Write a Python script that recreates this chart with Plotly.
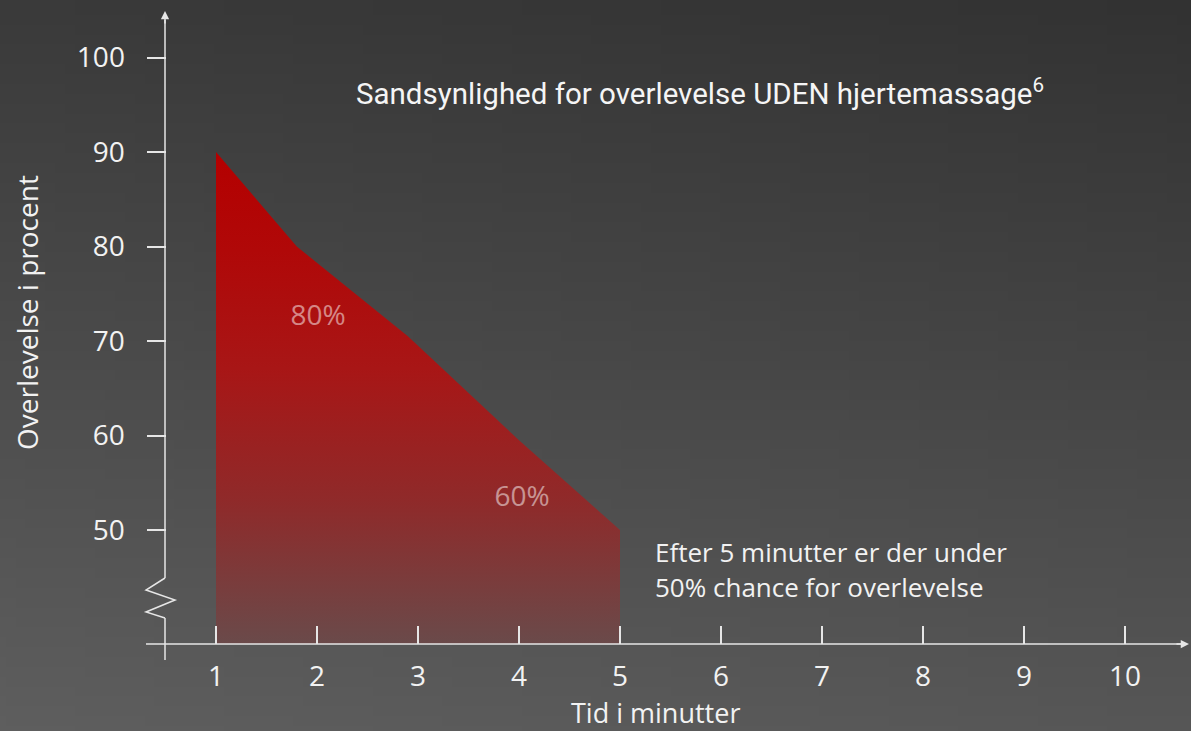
import base64
import struct
import zlib

import plotly.graph_objects as go

# ---------------- data ----------------
TIME_MIN = [1, 1.8, 2.9, 4, 5]
SURVIVAL_PCT = [90, 80, 70.5, 59.5, 50]
AXIS_FLOOR = 37.94          # value where the (broken) y axis meets the x axis

X_TICKS = [1, 2, 3, 4, 5, 6, 7, 8, 9, 10]
X_TICK_TEXT = ["1", "2", "3", "4", "5", "6", "7", "8", "9", "10"]
Y_TICKS = [50, 60, 70, 80, 90, 100]
Y_TICK_TEXT = ["50", "60", "70", "80", "90", "100"]

LABEL_X = [2.01, 4.03]
LABEL_Y = [72.4, 53.3]
LABEL_TEXT = ["80%", "60%"]

TITLE = "Sandsynlighed for overlevelse UDEN hjertemassage<sup>6</sup>"
NOTE_LINES = ["Efter 5 minutter er der under", "50% chance for overlevelse"]
X_TITLE = "Tid i minutter"
Y_TITLE = "Overlevelse i procent"

# ---------------- layout helpers ----------------
W, H = 1191, 731
X_RANGE = [1 - 216 / 101, 1 - 216 / 101 + W / 101]
Y_TOP = 100 + 57.5 / 9.45
Y_RANGE = [Y_TOP - H / 9.45, Y_TOP]


def px(x):
    return x / W


def py(y):
    return 1 - y / H


def make_bg_png(w=120, h=74):
    rows = []
    for j in range(h):
        ty = j / (h - 1)
        row = bytearray([0])
        for i in range(w):
            tx = i / (w - 1)
            v = int(round(50 + 36 * ty + 8 * (1 - tx)))
            row += bytes([v, v, v])
        rows.append(bytes(row))
    raw = b"".join(rows)

    def chunk(tag, data):
        return (struct.pack(">I", len(data)) + tag + data
                + struct.pack(">I", zlib.crc32(tag + data) & 0xFFFFFFFF))

    png = b"\x89PNG\r\n\x1a\n"
    png += chunk(b"IHDR", struct.pack(">IIBBBBB", w, h, 8, 2, 0, 0, 0))
    png += chunk(b"IDAT", zlib.compress(raw, 9))
    png += chunk(b"IEND", b"")
    return "data:image/png;base64," + base64.b64encode(png).decode()


# ---------------- figure ----------------
fig = go.Figure()

poly_x = TIME_MIN + [TIME_MIN[-1], TIME_MIN[0], TIME_MIN[0]]
poly_y = SURVIVAL_PCT + [AXIS_FLOOR, AXIS_FLOOR, SURVIVAL_PCT[0]]

fig.add_trace(go.Scatter(
    x=poly_x, y=poly_y, mode="lines", fill="toself",
    line=dict(width=0, color="rgba(0,0,0,0)"),
    fillgradient=dict(
        type="vertical",
        colorscale=[
            [0.0, "rgb(106,74,74)"],
            [0.29, "rgb(143,42,42)"],
            [0.56, "rgb(168,22,22)"],
            [0.80, "rgb(176,8,8)"],
            [1.0, "rgb(180,0,0)"],
        ],
    ),
    hoverinfo="skip", showlegend=False,
))

fig.add_trace(go.Scatter(
    x=LABEL_X, y=LABEL_Y, mode="text", text=LABEL_TEXT,
    textfont=dict(family="Open Sans, sans-serif", size=28,
                  color="rgba(255,255,255,0.5)"),
    hoverinfo="skip", showlegend=False,
))

AX_COL = "#e6e6e6"
TICK_FONT = dict(family="Open Sans, sans-serif", size=28, color="#f2f2f2")
TEXT_FONT = "Open Sans, sans-serif"

fig.update_xaxes(
    range=X_RANGE, showgrid=False, zeroline=False, showline=False,
    tickmode="array", tickvals=X_TICKS, ticktext=X_TICK_TEXT,
    ticks="inside", ticklen=18, tickwidth=1.5, tickcolor=AX_COL,
    anchor="free", position=py(644), tickfont=TICK_FONT,
    ticklabelstandoff=13, fixedrange=True,
)
fig.update_yaxes(
    range=Y_RANGE, showgrid=False, zeroline=False, showline=False,
    tickmode="array", tickvals=Y_TICKS, ticktext=Y_TICK_TEXT,
    ticks="outside", ticklen=19, tickwidth=1.5, tickcolor=AX_COL,
    anchor="free", position=px(165.5), tickfont=TICK_FONT,
    ticklabelstandoff=16, fixedrange=True,
)

line = dict(color=AX_COL, width=1.5)
shapes = [
    # x axis
    dict(type="line", xref="paper", yref="paper",
         x0=px(146), y0=py(644), x1=px(1182), y1=py(644), line=line),
    # y axis lower part
    dict(type="line", xref="paper", yref="paper",
         x0=px(165), y0=py(660), x1=px(165), y1=py(618), line=line),
    # y axis upper part
    dict(type="line", xref="paper", yref="paper",
         x0=px(165), y0=py(578), x1=px(165), y1=py(20), line=line),
    # break zigzag
    dict(type="path", xref="paper", yref="paper", line=line,
         path=(f"M {px(165)} {py(578)} L {px(146)} {py(590)} "
               f"L {px(175)} {py(600)} L {px(146)} {py(612)} "
               f"L {px(165)} {py(618)}")),
]

annotations = [
    # arrow heads
    dict(x=px(1189), y=py(644), xref="paper", yref="paper", text="",
         showarrow=True, ax=-14, ay=0, arrowhead=2, arrowsize=1.1,
         arrowwidth=1.5, arrowcolor=AX_COL),
    dict(x=px(165), y=py(11), xref="paper", yref="paper", text="",
         showarrow=True, ax=0, ay=14, arrowhead=2, arrowsize=1.1,
         arrowwidth=1.5, arrowcolor=AX_COL),
    # title
    dict(x=px(354), y=py(92), xref="paper", yref="paper", text=TITLE,
         showarrow=False, xanchor="left", yanchor="middle",
         font=dict(family="Roboto, sans-serif", size=29.5, color="#f5f5f5")),
    # note
    dict(x=px(653), y=py(552), xref="paper", yref="paper", text=NOTE_LINES[0],
         showarrow=False, xanchor="left", yanchor="middle",
         font=dict(family=TEXT_FONT, size=26, color="#f2f2f2")),
    dict(x=px(653), y=py(587), xref="paper", yref="paper", text=NOTE_LINES[1],
         showarrow=False, xanchor="left", yanchor="middle",
         font=dict(family=TEXT_FONT, size=26, color="#f2f2f2")),
    # axis titles
    dict(x=px(655), y=py(712), xref="paper", yref="paper", text=X_TITLE,
         showarrow=False, xanchor="center", yanchor="middle",
         font=dict(family=TEXT_FONT, size=27, color="#f2f2f2")),
    dict(x=px(27), y=py(313), xref="paper", yref="paper", text=Y_TITLE,
         showarrow=False, xanchor="center", yanchor="middle", textangle=-90,
         font=dict(family=TEXT_FONT, size=28, color="#f2f2f2")),
]

fig.update_layout(
    width=W, height=H,
    margin=dict(l=0, r=0, t=0, b=0, pad=0),
    paper_bgcolor="#444444", plot_bgcolor="rgba(0,0,0,0)",
    showlegend=False,
    shapes=shapes, annotations=annotations,
    images=[dict(source=make_bg_png(), xref="paper", yref="paper",
                 x=0, y=1, sizex=1, sizey=1, sizing="stretch",
                 xanchor="left", yanchor="top", layer="below")],
)

fig.write_html(
    "out.html",
    config={"displayModeBar": False},
    post_script="document.body.style.margin='0';"
                "document.body.style.overflow='hidden';",
)
